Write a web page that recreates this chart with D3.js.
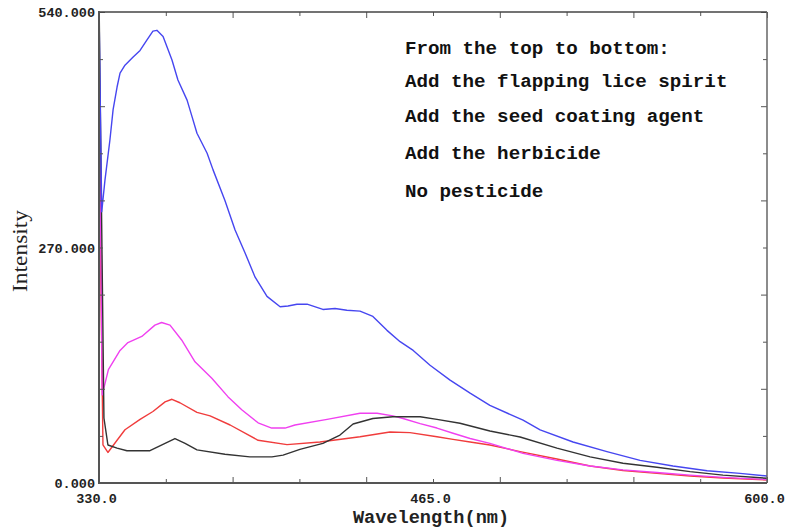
<!DOCTYPE html>
<html>
<head>
<meta charset="utf-8">
<script src="https://cdn.jsdelivr.net/npm/d3@7"></script>
<style>
  html, body { margin: 0; padding: 0; background: #fff; }
  svg { display: block; }
</style>
</head>
<body>
<svg id="chart" width="789" height="531"></svg>
<script>
// ---- data (wavelength nm, intensity) ----
const blueWl = [330,331.1,332.4,334.4,335.7,337.3,338.5,340.5,343.7,346.6,349.4,351.8,353.4,355.9,359.5,361.9,365.6,367.6,369.6,373.7,376.1,380.9,385.0,389.0,393.1,397.9,403.2,406.4,410.0,414.1,420.5,425.4,430.2,435.5,440.7,446.4,451.7,457.0,463.8,471.9,480.0,488.0,501.4,508.3,521.6,535.3,548.7,562.0,575.8,589.1,600];
const blueVal = [545,311,347,393,428,454,470,479,488,496,508,518,519,512,485,462,439,420,401,378,359,324,290,264,236,214,202,203,205,205,199,200,198,197,191,175,162,152,135,118,103,89,72,61,47,36,26,19.5,14,11,8];

const magentaWl = [330,331.3,333.8,338.5,341.7,347.3,352.6,355.3,358.7,363.4,368.8,375.6,382.1,387.7,394.3,399.8,405.2,409.2,422.2,435.5,442.4,448.8,452.9,459.8,466.6,473.1,480.0,488.0,501.4,515.1,528.5,541.8,555.5,568.9,582.2,600];
const magentaVal = [505,101,130,152,161,168,181,184,181,164,139,120,99,84,69,63,63,66.5,73,80,80,77,74,68,63,57,51,45.5,34,26,19.5,15,12,9,6.5,4];

const redWl = [330,331.6,333.6,337.3,340.5,346.6,351.8,356.7,359.5,362.7,369.6,374.9,383.0,394.3,406.0,419.3,435.5,447.6,455.7,466.6,473.1,480.0,488.0,500.2,515.1,528.5,541.8,555.5,568.9,582.2,600];
const redVal = [390,43.6,35,49,61,73,82,93,96,92,81,77,66.5,49,44,47,53,58.5,57.7,53,50,47,43.6,36,27.5,19.5,14.3,11,8,5.7,3.4];

const blackWl = [330,332.0,333.6,337.3,341.3,350.6,356.7,360.7,364.8,369.6,380.9,391.0,399.9,404.4,411.2,420.5,427.4,432.7,440.7,448.8,459.8,466.6,475.9,488.0,500.2,515.1,528.5,541.8,555.5,568.9,582.2,600];
const blackVal = [560,74.5,43.6,40,37,37,45.5,51,45.5,38,33,30,30,32,38.6,45.5,55,67.6,74,76,76,73,68.5,59.6,52.7,40,30,22.6,18,13,9,5.4];

const xTickValues = [330,357,384,411,438,465,492,519,546,573,600];
const xLabelValues = [330,465,600];
const yTickValues = [0,54,108,162,216,270,324,378,432,486,540];
const yLabelValues = [0,270,540];
const legendLines = ["From the top to bottom:","Add the flapping lice spirit","Add the seed coating agent","Add the herbicide","No pesticide"];
const xTitle = "Wavelength(nm)";
const yTitle = "Intensity";

// ---- layout ----
const L = 99, R = 767, T = 12, B = 483;
const svg = d3.select("#chart");
const x = d3.scaleLinear().domain([330,600]).range([L,R]);
const y = d3.scaleLinear().domain([0,540]).range([B,T]);

svg.append("defs").append("clipPath").attr("id","clip")
  .append("rect").attr("x",L).attr("y",T).attr("width",R-L).attr("height",B-T);

const line = d3.line().x(d=>x(d[0])).y(d=>y(d[1]));
const series = [
  {wl: redWl, v: redVal, color: "#f03c3c"},
  {wl: magentaWl, v: magentaVal, color: "#f040f0"},
  {wl: blackWl, v: blackVal, color: "#333333"},
  {wl: blueWl, v: blueVal, color: "#4646f0"}
];
const g = svg.append("g").attr("clip-path","url(#clip)");
series.forEach(s=>{
  g.append("path").datum(s.wl.map((w,i)=>[w,s.v[i]]))
    .attr("d",line).attr("fill","none").attr("stroke",s.color)
    .attr("stroke-width",1.4).attr("stroke-linejoin","round");
});

// ---- axes / frame ----
const axColor = "#555";
function styleTicks(sel, horizontal, sign){
  sel.select(".domain").remove();
  sel.selectAll(".tick line").attr("stroke",axColor).attr("stroke-width",1)
    .each(function(d,i){
      const len = (i%2===0 ? 6 : 4)*sign;
      d3.select(this).attr(horizontal ? "y2" : "x2", len);
    });
  sel.selectAll(".tick text").remove();
}
svg.append("g").attr("transform",`translate(0,${B})`)
  .call(d3.axisBottom(x).tickValues(xTickValues).tickSize(-6)).call(s=>styleTicks(s,true,-1));
svg.append("g").attr("transform",`translate(0,${T})`)
  .call(d3.axisTop(x).tickValues(xTickValues).tickSize(-6)).call(s=>styleTicks(s,true,1));
svg.append("g").attr("transform",`translate(${L},0)`)
  .call(d3.axisLeft(y).tickValues(yTickValues).tickSize(-6)).call(s=>styleTicks(s,false,1));
svg.append("g").attr("transform",`translate(${R},0)`)
  .call(d3.axisRight(y).tickValues(yTickValues).tickSize(-6)).call(s=>styleTicks(s,false,-1));

// frame lines
svg.append("line").attr("x1",L).attr("x2",R).attr("y1",T).attr("y2",T).attr("stroke","#444").attr("stroke-width",1.5);
svg.append("line").attr("x1",R).attr("x2",R).attr("y1",T).attr("y2",B).attr("stroke","#666").attr("stroke-width",1.5);
svg.append("line").attr("x1",L).attr("x2",L).attr("y1",T-1).attr("y2",B+1).attr("stroke","#555").attr("stroke-width",2);
svg.append("line").attr("x1",L-1).attr("x2",R).attr("y1",B).attr("y2",B).attr("stroke","#555").attr("stroke-width",2);

// tick labels
const monoFont = "'Liberation Mono', 'DejaVu Sans Mono', monospace";
const xl = svg.append("g").attr("transform",`translate(0,${B})`)
  .call(d3.axisBottom(x).tickValues(xLabelValues).tickSize(0).tickFormat(d3.format(".1f")));
xl.select(".domain").remove();
xl.selectAll(".tick text").attr("y",15.5).attr("dy","0.35em").attr("dx",-3)
  .attr("font-family",monoFont).attr("font-weight","bold").attr("font-size","13.5px").attr("fill","#222");

const yl = svg.append("g").attr("transform",`translate(${L},0)`)
  .call(d3.axisLeft(y).tickValues(yLabelValues).tickSize(0).tickFormat(d3.format(".3f")));
yl.select(".domain").remove();
yl.selectAll(".tick text").attr("x",-4).attr("dy","0.35em")
  .attr("font-family",monoFont).attr("font-weight","bold").attr("font-size","13.5px").attr("fill","#222");

// titles
svg.append("text").attr("x",431).attr("y",523).attr("text-anchor","middle")
  .attr("font-family",monoFont).attr("font-weight","bold").attr("font-size","18.6px").attr("fill","#222")
  .text(xTitle);
svg.append("text").attr("transform","translate(27,251) rotate(-90)").attr("text-anchor","middle")
  .attr("font-family","'Liberation Serif', 'DejaVu Serif', serif").attr("font-size","21px").attr("fill","#222")
  .attr("textLength",82).attr("lengthAdjust","spacingAndGlyphs")
  .text(yTitle);

// legend text
const legendY = [54, 87.3, 122.3, 159, 197.3];
svg.append("g").selectAll("text").data(legendLines).join("text")
  .attr("x",405).attr("y",(d,i)=>legendY[i])
  .attr("font-family",monoFont).attr("font-weight","bold").attr("font-size","19.2px").attr("fill","#111")
  .text(d=>d);
</script>
</body>
</html>
